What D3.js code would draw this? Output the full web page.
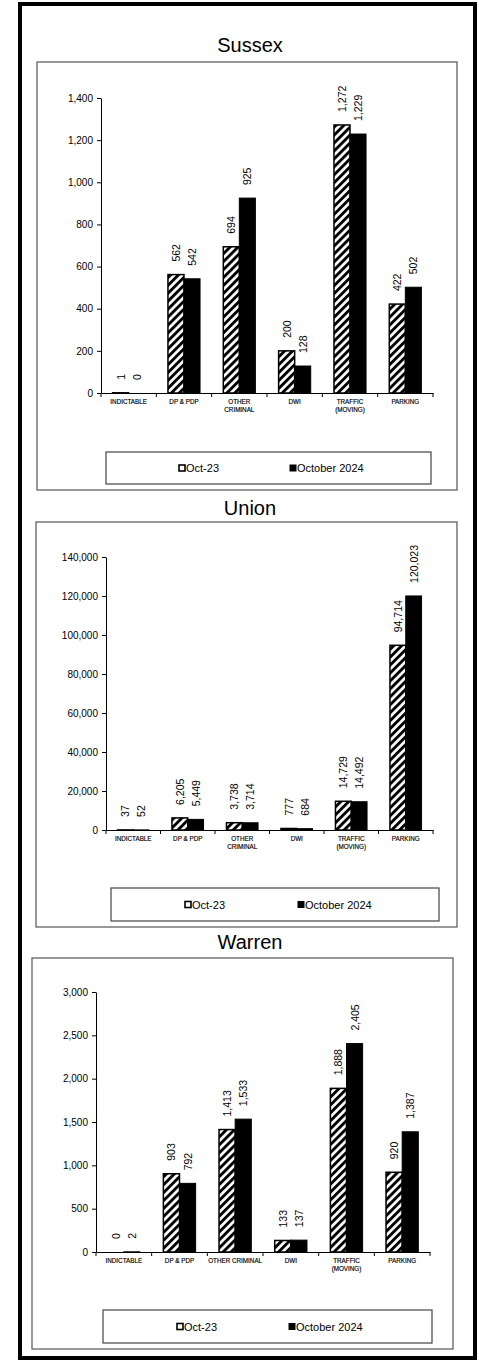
<!DOCTYPE html>
<html>
<head>
<meta charset="utf-8">
<script src="https://cdn.jsdelivr.net/npm/d3@7"></script>
<style>
    body { margin: 0; background: #fff; }
    text { font-family: "Liberation Sans", Arial, sans-serif; fill: #000; }
</style>
</head>
<body>
<script>
// data
const categories = ["INDICTABLE", "DP & PDP", "OTHER CRIMINAL", "DWI", "TRAFFIC (MOVING)", "PARKING"];
const seriesNames = ["Oct-23", "October 2024"];

const sussexOct23 = [1, 562, 694, 200, 1272, 422];
const sussexOct24 = [0, 542, 925, 128, 1229, 502];
const sussexTicks = [0, 200, 400, 600, 800, 1000, 1200, 1400];

const unionOct23 = [37, 6205, 3738, 777, 14729, 94714];
const unionOct24 = [52, 5449, 3714, 684, 14492, 120023];
const unionTicks = [0, 20000, 40000, 60000, 80000, 100000, 120000, 140000];

const warrenOct23 = [0, 903, 1413, 133, 1888, 920];
const warrenOct24 = [2, 792, 1533, 137, 2405, 1387];
const warrenTicks = [0, 500, 1000, 1500, 2000, 2500, 3000];

// tick labels as they wrap in each chart
const twoLineLabels = [["INDICTABLE"], ["DP & PDP"], ["OTHER", "CRIMINAL"], ["DWI"], ["TRAFFIC", "(MOVING)"], ["PARKING"]];
const warrenLabels = [["INDICTABLE"], ["DP & PDP"], ["OTHER CRIMINAL"], ["DWI"], ["TRAFFIC", "(MOVING)"], ["PARKING"]];

const width = 479, height = 1362;

let svg = d3.select("body").append("svg")
    .attr("width", width)
    .attr("height", height);

// diagonal hatch for the 2023 bars
svg.append("defs").append("pattern")
    .attr("id", "hatch")
    .attr("patternUnits", "userSpaceOnUse")
    .attr("width", 5.6)
    .attr("height", 5.6)
    .attr("patternTransform", "rotate(45)")
    .call(p => {
        p.append("rect").attr("width", 5.6).attr("height", 5.6).attr("fill", "#fff");
        p.append("rect").attr("width", 2.9).attr("height", 5.6).attr("fill", "#000");
    });

// outer frame
svg.append("rect")
    .attr("x", 20).attr("y", 4)
    .attr("width", 455).attr("height", 1354)
    .attr("fill", "none")
    .attr("stroke", "#000")
    .attr("stroke-width", 4);

const panels = [
    {title: "Sussex", a: sussexOct23, b: sussexOct24, ticks: sussexTicks, labels: twoLineLabels,
        titleY: 45, box: [37, 62, 457, 490], x0: 101, x1: 433, yTop: 98, yBottom: 393,
        legend: [106, 452, 431, 484], sw: [179, 290]},
    {title: "Union", a: unionOct23, b: unionOct24, ticks: unionTicks, labels: twoLineLabels,
        titleY: 508, box: [36, 522, 457, 927], x0: 106, x1: 433, yTop: 557, yBottom: 830,
        legend: [111, 888, 439, 921], sw: [185, 298]},
    {title: "Warren", a: warrenOct23, b: warrenOct24, ticks: warrenTicks, labels: warrenLabels,
        titleY: 942, box: [32, 958, 453, 1349], x0: 96, x1: 430, yTop: 992, yBottom: 1252,
        legend: [103, 1310, 432, 1343], sw: [177, 289]}
];

panels.forEach(drawPanel);

function drawPanel(p) {
    const g = svg.append("g");

    g.append("text") // chart title
        .attr("x", 250)
        .attr("y", p.titleY)
        .attr("text-anchor", "middle")
        .attr("dominant-baseline", "central")
        .style("font-size", "20px")
        .text(p.title);

    g.append("rect") // plot frame
        .attr("x", p.box[0]).attr("y", p.box[1])
        .attr("width", p.box[2] - p.box[0]).attr("height", p.box[3] - p.box[1])
        .attr("fill", "none")
        .attr("stroke", "#555")
        .attr("stroke-width", 1.2);

    const y = d3.scaleLinear()
        .domain([0, d3.max(p.ticks)])
        .range([p.yBottom, p.yTop]);

    const x = d3.scaleBand()
        .domain(categories)
        .range([p.x0, p.x1]);

    const xs = d3.scaleBand()
        .domain(seriesNames)
        .range([0, x.bandwidth()])
        .paddingOuter(0.725);

    // y axis
    const yAxis = g.append("g")
        .attr("transform", "translate(" + p.x0 + ",0)")
        .call(d3.axisLeft(y)
            .tickValues(p.ticks)
            .tickSize(4)
            .tickSizeOuter(0)
            .tickPadding(4)
            .tickFormat(d3.format(",")));
    yAxis.attr("font-family", null).attr("font-size", null);
    yAxis.selectAll("text").style("font-size", "10px");
    yAxis.selectAll("line, path").attr("stroke", "#000");

    // x axis line, ticks sit on the category boundaries
    const xAxis = g.append("g")
        .attr("transform", "translate(0," + p.yBottom + ")")
        .call(d3.axisBottom(x).tickSize(0).tickSizeOuter(0).tickFormat(""));
    xAxis.select("path").attr("stroke", "#000");

    const edges = categories.map(c => x(c)).concat([x.range()[1]]);
    g.selectAll(".edge")
        .data(edges)
        .enter()
        .append("line")
        .attr("x1", d => d).attr("x2", d => d)
        .attr("y1", p.yBottom).attr("y2", p.yBottom + 4)
        .attr("stroke", "#000");

    // category labels
    categories.forEach((c, i) => {
        const t = g.append("text")
            .attr("text-anchor", "middle")
            .style("font-size", "6.3px")
            .style("stroke", "#000")
            .style("stroke-width", "0.15");
        p.labels[i].forEach((line, k) => {
            t.append("tspan")
                .attr("x", x(c) + x.bandwidth() / 2)
                .attr("y", p.yBottom + 10.5 + k * 8)
                .text(line);
        });
    });

    // bars + rotated value labels
    const rows = [];
    categories.forEach((c, i) => {
        rows.push({cat: c, s: seriesNames[0], v: p.a[i]});
        rows.push({cat: c, s: seriesNames[1], v: p.b[i]});
    });

    g.selectAll(".bar")
        .data(rows)
        .enter()
        .append("rect")
        .attr("x", d => x(d.cat) + xs(d.s))
        .attr("y", d => y(d.v))
        .attr("width", xs.bandwidth())
        .attr("height", d => p.yBottom - y(d.v))
        .attr("fill", d => d.s === seriesNames[0] ? "url(#hatch)" : "#000")
        .attr("stroke", "#000")
        .attr("stroke-width", d => d.s === seriesNames[0] ? 1.5 : 1);

    g.selectAll(".val")
        .data(rows)
        .enter()
        .append("text")
        .attr("transform", d => "translate(" + (x(d.cat) + xs(d.s) + xs.bandwidth() / 2) + "," + (y(d.v) - 13) + ") rotate(-90)")
        .attr("text-anchor", "start")
        .attr("dominant-baseline", "central")
        .style("font-size", "10.5px")
        .text(d => d3.format(",")(d.v));

    // legend
    const L = p.legend;
    const cy = (L[1] + L[3]) / 2;
    g.append("rect")
        .attr("x", L[0]).attr("y", L[1])
        .attr("width", L[2] - L[0]).attr("height", L[3] - L[1])
        .attr("fill", "#fff")
        .attr("stroke", "#444")
        .attr("stroke-width", 1.2);

    seriesNames.forEach((s, i) => {
        g.append("rect")
            .attr("x", p.sw[i]).attr("y", cy - 3)
            .attr("width", 6).attr("height", 6)
            .attr("fill", i === 0 ? "#fff" : "#000")
            .attr("stroke", "#000")
            .attr("stroke-width", i === 0 ? 1.6 : 1);
        g.append("text")
            .attr("x", p.sw[i] + 7)
            .attr("y", cy)
            .attr("dominant-baseline", "central")
            .style("font-size", "11px")
            .text(s);
    });
}
</script>
</body>
</html>
